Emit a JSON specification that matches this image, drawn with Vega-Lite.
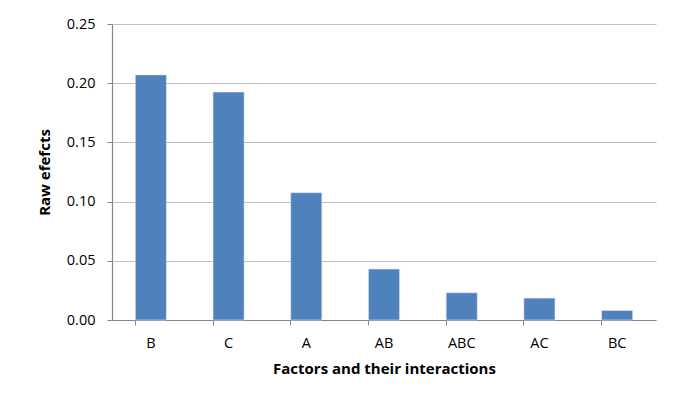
{
  "$schema": "https://vega.github.io/schema/vega-lite/v6.json",
  "width": 544,
  "height": 296,
  "autosize": {"type": "none"},
  "padding": {"left": 112, "top": 24, "right": 26, "bottom": 85},
  "background": "white",
  "config": {
    "view": {"stroke": null},
    "font": "Open Sans",
    "axis": {
      "labelFont": "Open Sans",
      "titleFont": "Open Sans",
      "labelColor": "#000000",
      "titleColor": "#000000",
      "titleFontSize": 15,
      "titleFontWeight": "bold",
      "domainColor": "#868686",
      "tickColor": "#868686",
      "gridColor": "#BFBFBF",
      "gridWidth": 1.2,
      "tickSize": 5
    }
  },
  "data": {
    "values": [
      {"factor": "B", "effect": 0.207},
      {"factor": "C", "effect": 0.1925},
      {"factor": "A", "effect": 0.1075},
      {"factor": "AB", "effect": 0.043},
      {"factor": "ABC", "effect": 0.023},
      {"factor": "AC", "effect": 0.0185},
      {"factor": "BC", "effect": 0.008}
    ]
  },
  "mark": {"type": "bar", "color": "#4F81BD", "stroke": "#DCE6F2", "strokeWidth": 0.6},
  "encoding": {
    "x": {
      "field": "factor",
      "type": "nominal",
      "sort": null,
      "title": "Factors and their interactions",
      "scale": {"paddingInner": 0.6, "paddingOuter": 0.3},
      "axis": {
        "labelAngle": 0,
        "labelFontSize": 14.5,
        "bandPosition": 0,
        "labelPadding": 11,
        "titlePadding": 12,
        "domainWidth": 1.2
      }
    },
    "y": {
      "field": "effect",
      "type": "quantitative",
      "title": "Raw efefcts",
      "scale": {"domain": [0, 0.25], "nice": false},
      "axis": {
        "values": [0, 0.05, 0.1, 0.15, 0.2, 0.25],
        "format": ".2f",
        "labelFontSize": 14.5,
        "labelPadding": 12,
        "titlePadding": 14,
        "domainWidth": 1.2
      }
    }
  }
}
